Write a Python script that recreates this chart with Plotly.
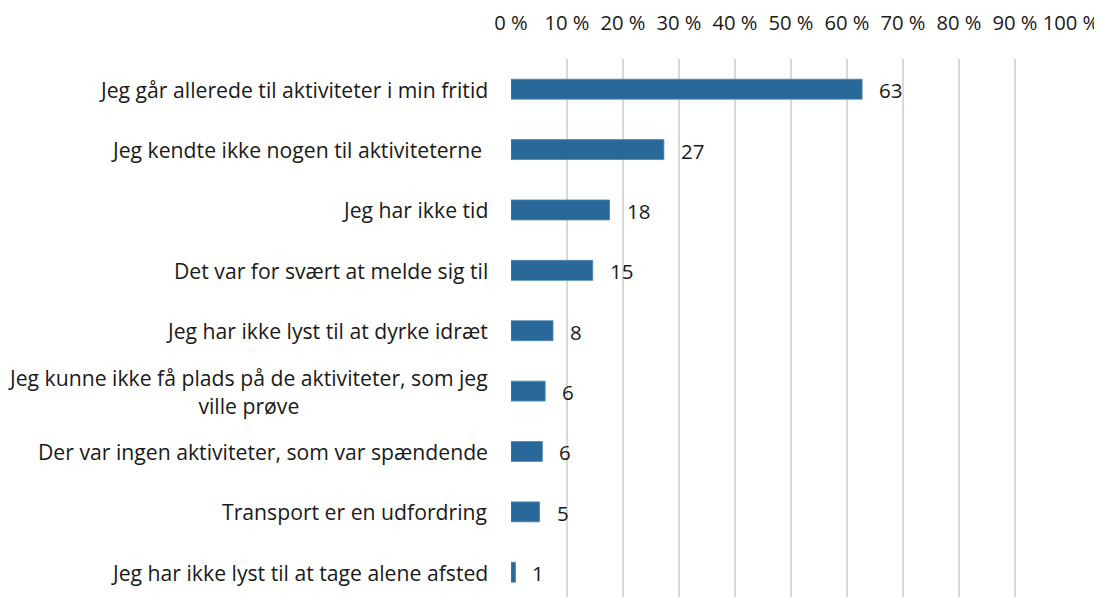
import plotly.graph_objects as go

categories = [
    "Jeg går allerede til aktiviteter i min fritid",
    "Jeg kendte ikke nogen til aktiviteterne ",
    "Jeg har ikke tid",
    "Det var for svært at melde sig til",
    "Jeg har ikke lyst til at dyrke idræt",
    "Jeg kunne ikke få plads på de aktiviteter, som jeg<br>ville prøve",
    "Der var ingen aktiviteter, som var spændende",
    "Transport er en udfordring",
    "Jeg har ikke lyst til at tage alene afsted",
]
values = [62.7, 27.3, 17.6, 14.6, 7.5, 6.1, 5.6, 5.1, 0.8]
value_labels = ["63", "27", "18", "15", "8", "6", "6", "5", "1"]
tick_vals = [0, 10, 20, 30, 40, 50, 60, 70, 80, 90, 100]
tick_text = [f"{v} %" for v in tick_vals]

FONT = "Open Sans, sans-serif"
BAR = "#29699a"
TXT = "#1a1a1a"

fig = go.Figure()
fig.add_trace(go.Bar(
    x=values, y=categories, orientation="h",
    marker=dict(color=BAR, line=dict(color="#4a86b0", width=0.8)),
    width=0.33, hoverinfo="skip",
))

annotations = []
for c in categories:
    annotations.append(dict(
        x=0, y=c, xref="x", yref="y", text=c, showarrow=False,
        xanchor="right", yanchor="middle", xshift=-21, align="center",
        font=dict(family=FONT, size=21.2, color=TXT),
    ))
for c, v, t in zip(categories, values, value_labels):
    annotations.append(dict(
        x=v, y=c, xref="x", yref="y", text=t, showarrow=False,
        xanchor="left", yanchor="middle", xshift=15, yshift=-1,
        font=dict(family=FONT, size=20.5, color=TXT),
    ))

fig.update_layout(
    width=1094, height=589,
    margin=dict(l=503, r=31, t=51, b=0, autoexpand=False),
    paper_bgcolor="white", plot_bgcolor="white",
    showlegend=False,
    annotations=annotations,
    xaxis=dict(
        side="top", range=[0, 100], tickvals=tick_vals, ticktext=tick_text,
        showgrid=True, gridcolor="#d9d9d9", gridwidth=1.5,
        zeroline=False, showline=False, ticks="", automargin=False,
        tickfont=dict(family=FONT, size=20.2, color=TXT),
        ticklabelstandoff=24,
    ),
    yaxis=dict(
        categoryorder="array", categoryarray=categories,
        range=[8.41, -0.5], showticklabels=False, showgrid=False,
        zeroline=False, showline=False, ticks="", automargin=False,
    ),
)

fig.write_html("out.html")
